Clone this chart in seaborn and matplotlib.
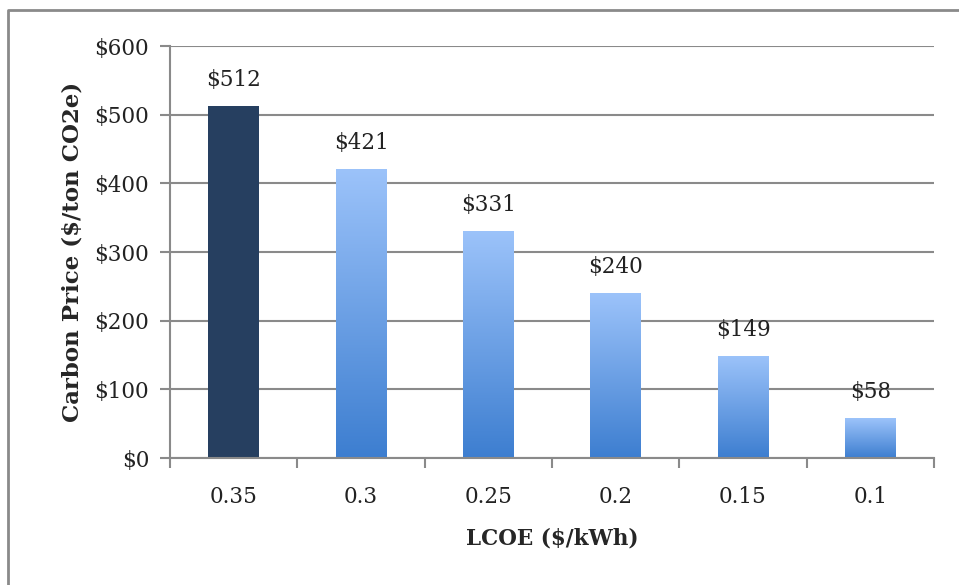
import numpy as np
import pandas as pd
import matplotlib.pyplot as plt
import seaborn as sns
from matplotlib.lines import Line2D
from matplotlib.colors import LinearSegmentedColormap

# données
lcoe = ["0.35", "0.3", "0.25", "0.2", "0.15", "0.1"]
prix = [512, 421, 331, 240, 149, 58]
etiquettes = ["$512", "$421", "$331", "$240", "$149", "$58"]
yticks = [0, 100, 200, 300, 400, 500, 600]

df = pd.DataFrame({"lcoe": lcoe, "prix": prix})

sns.set_theme(style="white")
plt.rcParams['font.family'] = ['DejaVu Serif']
gris = "#8a8a8a"
taille = 15.5

W, H = 959, 585
fig = plt.figure(figsize=(W / 100, H / 100), dpi=100)
ax = fig.add_axes([170 / W, 1 - 458 / H, (934 - 170) / W, (458 - 46) / H])

sns.barplot(data=df, x="lcoe", y="prix", ax=ax, width=0.4,
            color="#3f80d2", saturation=1, linewidth=0)

# dégradé sur les barres (clair en haut, foncé en bas)
cmap = LinearSegmentedColormap.from_list("bleu", ["#3d7ed0", "#9cc3fa"])
grad = np.linspace(0, 1, 256).reshape(-1, 1)
for i, p in enumerate(ax.patches):
    x0, w, h = p.get_x(), p.get_width(), p.get_height()
    if i == 0:
        p.set_facecolor("#263f60")
        continue
    p.set_facecolor("none")
    im = ax.imshow(grad, extent=[x0, x0 + w, 0, h], origin="lower",
                   cmap=cmap, aspect="auto", zorder=p.get_zorder())
    im.set_clip_path(p)

ax.set_xlim(-0.5, len(lcoe) - 0.5)
ax.set_ylim(0, 600)
ax.set_yticks(yticks)
ax.set_yticklabels(["\\$%d" % v for v in yticks], fontsize=taille, color="#222222")
ax.set_xticks(range(len(lcoe)))
ax.set_xticklabels(lcoe, fontsize=taille, color="#222222")

ax.grid(axis="y", color=gris, linewidth=1.5)
ax.set_axisbelow(True)
for s in ["top", "right"]:
    ax.spines[s].set_visible(False)
for s in ["left", "bottom"]:
    ax.spines[s].set_color(gris)
    ax.spines[s].set_linewidth(1.5)

# petits traits : y vers la gauche, x entre catégories
ax.tick_params(axis="y", left=True, length=7, width=1.5, color=gris, pad=8)
ax.tick_params(axis="x", bottom=False, pad=14)
ax.set_xticks(np.arange(-0.5, len(lcoe), 1), minor=True)
ax.tick_params(axis="x", which="minor", bottom=True, length=7, width=1.5, color=gris)

for i, (v, t) in enumerate(zip(prix, etiquettes)):
    ax.text(i, v + 22, t.replace("$", "\\$"), ha="center", va="bottom",
            fontsize=taille, color="#222222")

ax.set_xlabel("LCOE (\\$/kWh)", fontsize=taille, fontweight="bold", labelpad=14)
ax.set_ylabel("Carbon Price (\\$/ton CO2e)", fontsize=16.5, fontweight="bold", labelpad=8)

# cadre gris autour du graphique
fig.add_artist(Line2D([8 / W, 8 / W, 1], [0, 1 - 10 / H, 1 - 10 / H],
                      transform=fig.transFigure, color=gris, linewidth=2))

fig.savefig("out.png", dpi=100, facecolor="white")
